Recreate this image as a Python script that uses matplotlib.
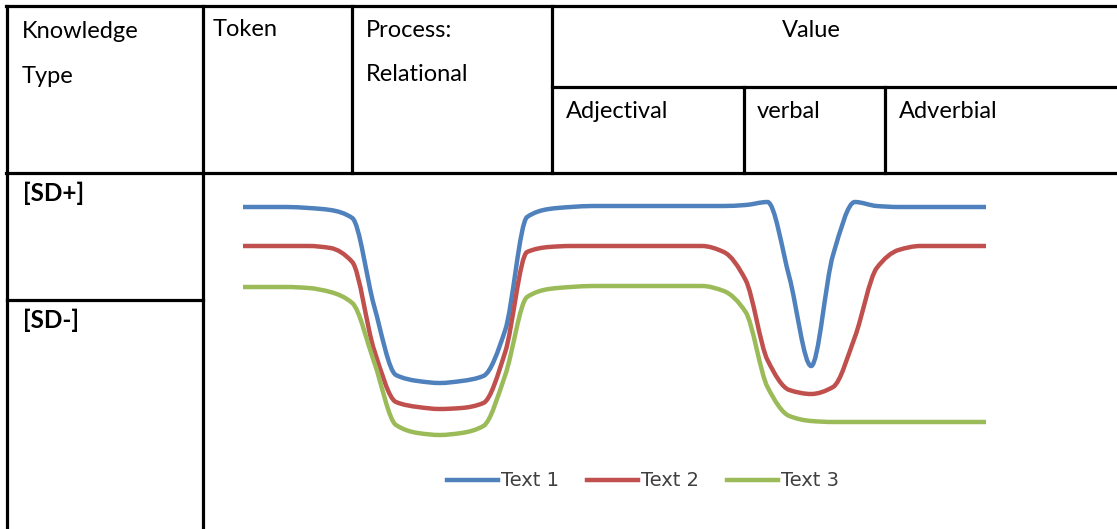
from __future__ import annotations

import matplotlib

matplotlib.use("Agg")

from matplotlib import pyplot as plt
from matplotlib.lines import Line2D
from matplotlib.patches import PathPatch
from matplotlib.path import Path

# chart data (arbitrary score, one value per step)
series_names = ["Text 1", "Text 2", "Text 3"]
text1 = [23.3, 23.3, 23.3, 23.2, 23.0, 22.2, 13.4, 6.5, 5.9, 5.7, 5.9, 6.4,
         11.0, 22.3, 23.1, 23.3, 23.4, 23.4, 23.4, 23.4, 23.4, 23.4, 23.4,
         23.5, 23.8, 16.3, 7.4, 18.5, 23.8, 23.4, 23.3, 23.3, 23.3, 23.3, 23.3]
text2 = [19.4, 19.4, 19.4, 19.4, 19.2, 17.8, 9.0, 3.8, 3.3, 3.1, 3.2, 3.7,
         8.8, 18.8, 19.3, 19.4, 19.4, 19.4, 19.4, 19.4, 19.4, 19.4, 18.8,
         16.0, 8.0, 5.0, 4.6, 5.3, 10.3, 17.2, 19.0, 19.4, 19.4, 19.4, 19.4]
text3 = [15.3, 15.3, 15.3, 15.2, 14.8, 13.7, 7.8, 1.5, 0.7, 0.5, 0.7, 1.4,
         6.5, 14.3, 15.1, 15.3, 15.4, 15.4, 15.4, 15.4, 15.4, 15.4, 14.9,
         12.8, 5.3, 2.4, 1.9, 1.8, 1.8, 1.8, 1.8, 1.8, 1.8, 1.8, 1.8]
series_colors = ["#4F81BD", "#C0504D", "#9BBB59"]

# table texts
header_cells = [
    ("Knowledge", 22, 38), ("Type", 22, 83), ("Token", 213, 36),
    ("Process:", 366, 37), ("Relational", 366, 81),
    ("Adjectival", 566, 118), ("verbal", 757, 118), ("Adverbial", 899, 118),
]
row_labels = [("[SD+]", 23, 201), ("[SD-]", 23, 328)]

W, H = 1117, 529
LINE = dict(color="black", lw=2.3, solid_capstyle="projecting")


def smooth_path(xs, ys) -> Path:
    # monotone cubic (Fritsch-Carlson) through the points, drawn as beziers
    n = len(xs)
    d = [ys[i + 1] - ys[i] for i in range(n - 1)]
    m = [d[0]] + [0.0] * (n - 2) + [d[-1]]
    for i in range(1, n - 1):
        if d[i - 1] * d[i] > 0:
            m[i] = 2 / (1 / d[i - 1] + 1 / d[i])
    verts = [(xs[0], ys[0])]
    codes = [Path.MOVETO]
    for i in range(n - 1):
        h = xs[i + 1] - xs[i]
        verts += [(xs[i] + h / 3, ys[i] + m[i] / 3),
                  (xs[i + 1] - h / 3, ys[i + 1] - m[i + 1] / 3),
                  (xs[i + 1], ys[i + 1])]
        codes += [Path.CURVE4] * 3
    return Path(verts, codes)


fig = plt.figure(figsize=(W / 100, H / 100), dpi=100)

# table grid, in pixel coordinates
tab = fig.add_axes([0, 0, 1, 1])
tab.set_xlim(0, W)
tab.set_ylim(H, 0)
tab.axis("off")
tab.plot([6, W], [6, 6], **LINE)
tab.plot([6, W], [172.5, 172.5], **LINE)
tab.plot([552, W], [87, 87], **LINE)
tab.plot([7, 7], [6, H], **LINE)
tab.plot([202.5, 202.5], [6, H], **LINE)
tab.plot([351.5, 351.5], [6, 172.5], **LINE)
tab.plot([552, 552], [6, 172.5], **LINE)
tab.plot([743.5, 743.5], [87, 172.5], **LINE)
tab.plot([884.5, 884.5], [87, 172.5], **LINE)
tab.plot([7, 202.5], [300, 300], **LINE)

for label, x, y in header_cells:
    tab.text(x, y, label, family="Lato", fontsize=17, va="baseline", ha="left")
tab.text(811, 37, "Value", family="Lato", fontsize=17, va="baseline", ha="center")
for label, x, y in row_labels:
    tab.text(x, y, label, family="Lato", fontsize=17.5, fontweight="bold",
             va="baseline", ha="left")

# embedded line chart
ax = fig.add_axes([243 / W, (H - 440) / H, 743 / W, 250 / H])
ax.set_xlim(0, len(text1) - 1)
ax.set_ylim(0, 25)
ax.axis("off")

steps = list(range(len(text1)))
for values, color in zip([text1, text2, text3], series_colors):
    ax.add_patch(PathPatch(smooth_path(steps, values), fill=False,
                           edgecolor=color, lw=3.2, capstyle="butt",
                           clip_on=False))

handles = [Line2D([], [], color=c, lw=3.2) for c in series_colors]
fig.legend(handles, series_names, loc="center",
           bbox_to_anchor=(643 / W, 1 - 481 / H), ncol=3, frameon=False,
           fontsize=14, handlelength=2.62, handletextpad=0.15,
           columnspacing=1.45, labelcolor="#404040")

fig.savefig("out.png", dpi=100)
plt.close(fig)
